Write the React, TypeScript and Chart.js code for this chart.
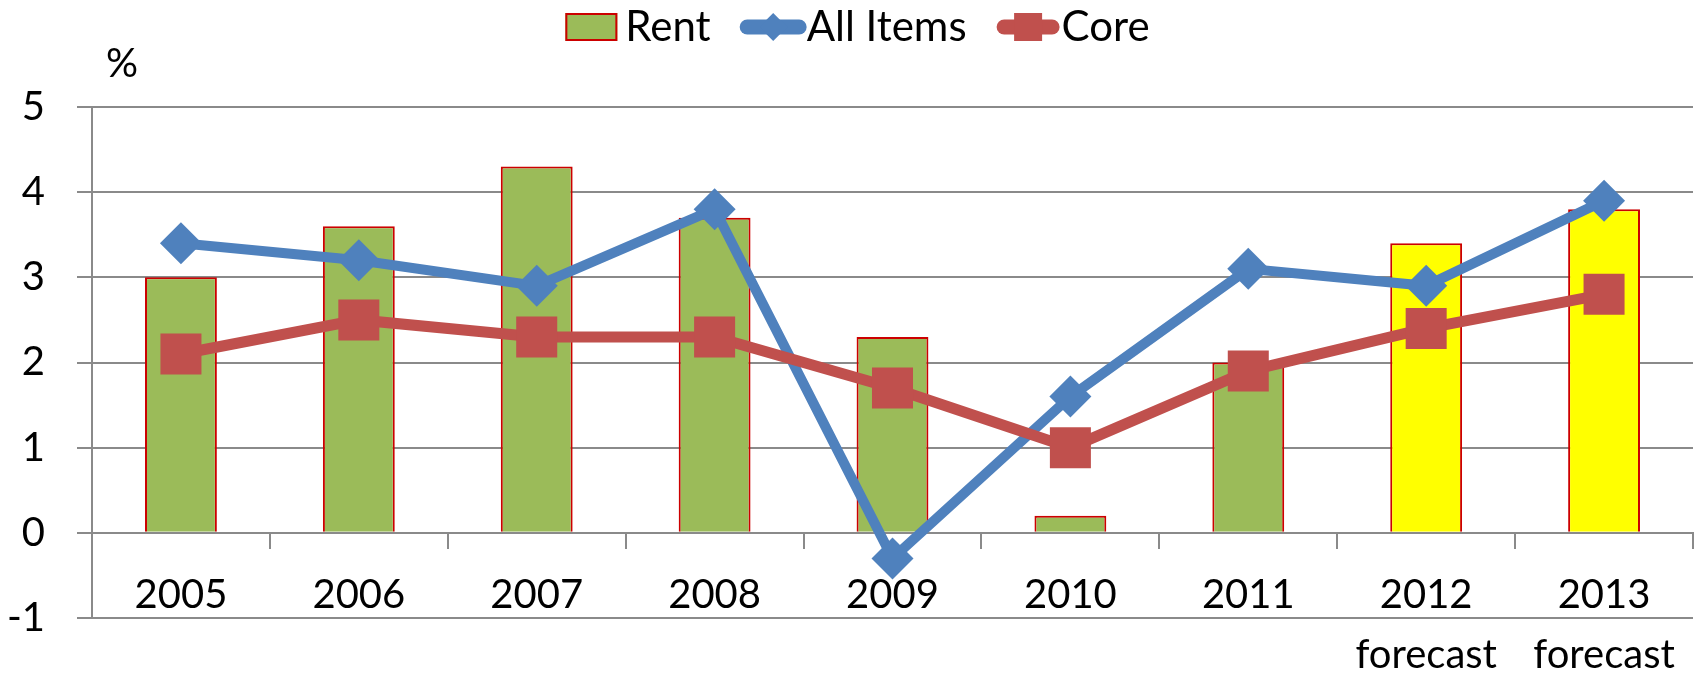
import React, { useEffect, useRef } from 'react';
import { Chart, registerables } from 'chart.js';

Chart.register(...registerables);

// ---- data ----
const years = ['2005', '2006', '2007', '2008', '2009', '2010', '2011', '2012', '2013'];
const forecastYears = ['2012', '2013'];
const forecastNote = 'forecast';
const rent = [3.0, 3.6, 4.3, 3.7, 2.3, 0.2, 2.0, 3.4, 3.8];
const allItems = [3.4, 3.2, 2.9, 3.8, -0.3, 1.6, 3.1, 2.9, 3.9];
const core = [2.1, 2.5, 2.3, 2.3, 1.7, 1.0, 1.9, 2.4, 2.8];
const seriesNames = ['Rent', 'All Items', 'Core'];
const yMin = -1;
const yMax = 5;
const yStep = 1;
const unitLabel = '%';

// ---- style ----
const FONT = 'Lato';
const GRAY = '#8a8a8a';
const GREEN = '#9BBB59';
const YELLOW = '#FFFF00';
const BAR_BORDER = '#CC0000';
const BLUE = '#4F81BD';
const RED = '#C0504D';

const labels = years.map((y) => (forecastYears.includes(y) ? [y, forecastNote] : y));
const barColors = years.map((y) => (forecastYears.includes(y) ? YELLOW : GREEN));

const overlayPlugin = {
  id: 'overlay',
  afterDraw(chart: any) {
    const ctx = chart.ctx as CanvasRenderingContext2D;
    ctx.save();
    ctx.font = `40px ${FONT}`;
    ctx.fillStyle = '#000';
    ctx.textBaseline = 'alphabetic';
    ctx.textAlign = 'center';
    ctx.fillText(unitLabel, 122, 77);

    // legend
    ctx.font = `42px ${FONT}`;
    ctx.textAlign = 'left';
    const ds = chart.data.datasets;
    const items = [
      { kind: 'box', w: 52, gap: 8, after: 29, ds: ds[0] },
      { kind: 'rectRot', w: 67, gap: 0, after: 30, ds: ds[1] },
      { kind: 'rect', w: 63, gap: 2, after: 0, ds: ds[2] },
    ];
    let total = 0;
    items.forEach((it) => {
      total += it.w + it.gap + ctx.measureText(it.ds.label).width + it.after;
    });
    const cy = 27;
    let x = 857.5 - total / 2;
    items.forEach((it) => {
      if (it.kind === 'box') {
        const fill = Array.isArray(it.ds.backgroundColor) ? it.ds.backgroundColor[0] : it.ds.backgroundColor;
        ctx.fillStyle = fill;
        ctx.fillRect(x, cy - 14, it.w, 28);
        ctx.strokeStyle = it.ds.borderColor;
        ctx.lineWidth = 2;
        ctx.strokeRect(x + 1, cy - 13, it.w - 2, 26);
      } else {
        ctx.strokeStyle = it.ds.borderColor;
        ctx.lineWidth = 15;
        ctx.lineCap = 'round';
        ctx.beginPath();
        ctx.moveTo(x + 7.5, cy);
        ctx.lineTo(x + it.w - 7.5, cy);
        ctx.stroke();
        const mx = x + it.w / 2;
        ctx.fillStyle = it.ds.pointBackgroundColor;
        ctx.beginPath();
        if (it.kind === 'rectRot') {
          ctx.moveTo(mx, cy - 14);
          ctx.lineTo(mx + 14, cy);
          ctx.lineTo(mx, cy + 14);
          ctx.lineTo(mx - 14, cy);
          ctx.closePath();
        } else {
          ctx.rect(mx - 14, cy - 14, 28, 28);
        }
        ctx.fill();
      }
      x += it.w + it.gap;
      ctx.fillStyle = '#000';
      ctx.fillText(it.ds.label, x, 41);
      x += ctx.measureText(it.ds.label).width + it.after;
    });
    ctx.restore();
  },
};

export default function App() {
  const ref = useRef<HTMLCanvasElement>(null);
  useEffect(() => {
    document.body.style.margin = '0';
    if (!ref.current) return;
    const chart = new Chart(ref.current, {
      type: 'bar',
      data: {
        labels,
        datasets: [
          {
            type: 'bar',
            label: seriesNames[0],
            data: rent,
            backgroundColor: barColors,
            borderColor: BAR_BORDER,
            borderWidth: 2,
            categoryPercentage: 0.8,
            barPercentage: 0.505,
            order: 3,
          },
          {
            type: 'line',
            label: seriesNames[1],
            data: allItems,
            borderColor: BLUE,
            backgroundColor: BLUE,
            pointBackgroundColor: BLUE,
            borderWidth: 10,
            pointStyle: 'rectRot',
            pointRadius: 21,
            pointBorderWidth: 0,
            tension: 0,
            order: 2,
          },
          {
            type: 'line',
            label: seriesNames[2],
            data: core,
            borderColor: RED,
            backgroundColor: RED,
            pointBackgroundColor: RED,
            borderWidth: 11,
            pointStyle: 'rect',
            pointRadius: 29,
            pointBorderWidth: 0,
            tension: 0,
            order: 1,
          },
        ] as any,
      },
      options: {
        responsive: false,
        animation: false,
        layout: { autoPadding: false, padding: { top: 107, right: 7, bottom: 55, left: 0 } },
        plugins: { legend: { display: false }, tooltip: { enabled: false } },
        scales: {
          x: {
            position: { y: 0 } as any,
            offset: true,
            grid: { drawOnChartArea: false, drawTicks: true, tickLength: 15, color: GRAY, lineWidth: 2, offset: true },
            border: { display: true, color: GRAY, width: 2 },
            ticks: {
              font: { family: FONT, size: 40, lineHeight: 1.5 },
              color: '#000',
              padding: 17,
              maxRotation: 0,
              autoSkip: false,
            },
            afterFit: (s: any) => {
              s.paddingLeft = 0;
              s.paddingRight = 0;
            },
          },
          y: {
            min: yMin,
            max: yMax,
            ticks: { stepSize: yStep, font: { family: FONT, size: 40 }, color: '#000', padding: 32 },
            grid: { color: GRAY, lineWidth: 2, tickLength: 15 },
            border: { color: GRAY, width: 2 },
            afterFit: (s: any) => {
              s.width = 92;
            },
          },
        },
      } as any,
      plugins: [overlayPlugin],
    });
    return () => chart.destroy();
  }, []);
  return <canvas ref={ref} width={1700} height={674} style={{ display: 'block' }} />;
}
